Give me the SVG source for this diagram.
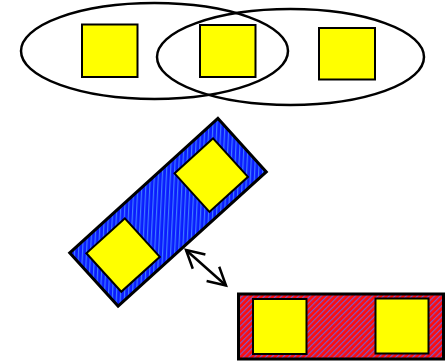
<svg xmlns="http://www.w3.org/2000/svg" width="447" height="362" viewBox="0 0 447 362">
<style>
.ell{fill:none;stroke:#000;stroke-width:2.5}
.sq{fill:#ffff00;stroke:#000;stroke-width:2}
.box{stroke:#000;stroke-width:3}
.conn{fill:none;stroke:#000;stroke-width:2.5}
</style>
<defs>
<pattern id="pb" width="4" height="4" patternUnits="userSpaceOnUse" patternTransform="rotate(45)">
<rect width="4" height="4" fill="#0a1cff"/>
<rect width="1.2" height="4" fill="#3f7cff"/>
</pattern>
<pattern id="pr" width="4" height="4" patternUnits="userSpaceOnUse" patternTransform="rotate(45)">
<rect width="4" height="4" fill="#ff0c0c"/>
<rect width="1.2" height="4" fill="#7a5ad0"/>
</pattern>
<marker id="ah" markerWidth="22" markerHeight="24" refX="19.5" refY="11" orient="auto-start-reverse" markerUnits="userSpaceOnUse" viewBox="0 0 22 22">
<path d="M2,1.5 L19.5,11 L2,20.5" fill="none" stroke="#000" stroke-width="2.5"/>
</marker>
</defs>
<g id="set1"><ellipse class="ell" cx="154.5" cy="51" rx="133.5" ry="48"/></g>
<g id="set2"><ellipse class="ell" cx="290.5" cy="57" rx="133.5" ry="48"/></g>
<g id="a"><rect class="sq" x="82" y="24.5" width="55.5" height="52.5"/></g>
<g id="b"><rect class="sq" x="200" y="25" width="55.5" height="52"/></g>
<g id="c"><rect class="sq" x="319" y="28" width="56" height="51.5"/></g>
<g id="blue" transform="translate(168,212.3) rotate(-42.2)">
<rect class="box" x="-100" y="-36" width="200" height="72" fill="url(#pb)"/>
<rect class="sq" x="-88" y="-24.5" width="52" height="52"/>
<rect class="sq" x="31" y="-24.5" width="52" height="52"/>
</g>
<g id="red">
<rect class="box" x="238.5" y="294" width="205" height="65" fill="url(#pr)"/>
<rect class="sq" x="253" y="299" width="53.5" height="55"/>
<rect class="sq" x="375.5" y="298.5" width="53" height="55"/>
</g>
<g id="connectors">
<line class="conn" x1="186" y1="250" x2="226" y2="285.5" marker-start="url(#ah)" marker-end="url(#ah)"/>
</g>
</svg>
